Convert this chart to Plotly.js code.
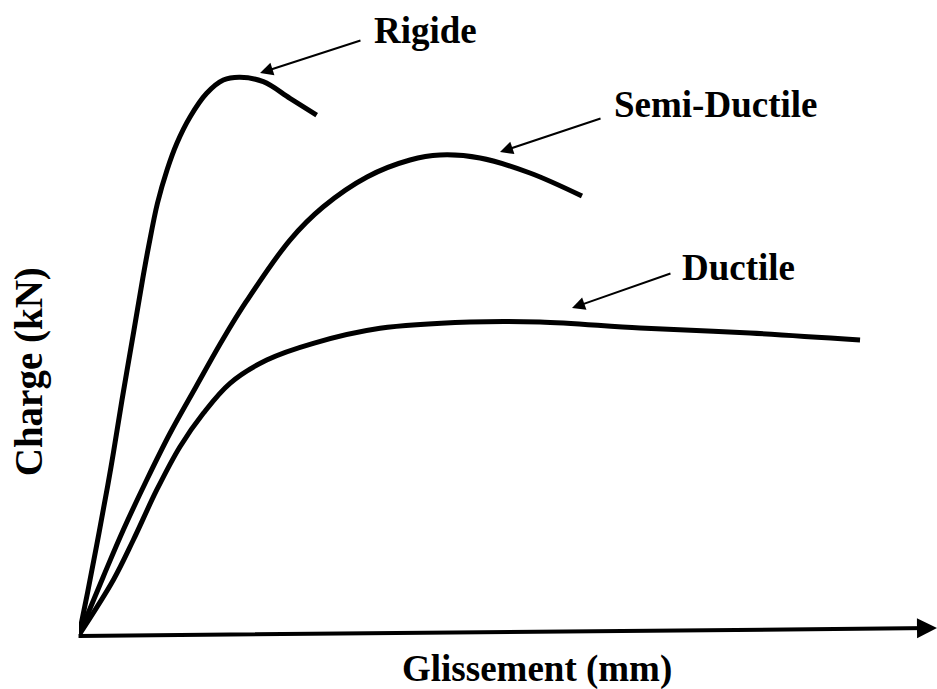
<!DOCTYPE html>
<html>
<head>
<meta charset="utf-8">
<script src="https://cdn.plot.ly/plotly-3.0.1.min.js"></script>
<style>html,body{margin:0;padding:0;background:#fff;}#chart{width:937px;height:689px;}</style>
</head>
<body>
<div id="chart"></div>
<script>
// Glissement (arbitrary units) and Charge (arbitrary units)
const rigideX = [0, 0.099, 0.233, 0.373, 0.501, 0.641, 0.740, 0.810, 0.915, 1.026, 1.142, 1.294, 1.488, 1.682, 1.876, 2.148, 2.459, 2.770];
const rigideY = [0, 0.704, 1.709, 2.814, 3.936, 5.109, 5.946, 6.499, 7.236, 7.789, 8.241, 8.677, 9.074, 9.296, 9.342, 9.268, 8.990, 8.710];

const semiX = [0, 0.283, 0.516, 0.789, 1.061, 1.364, 1.672, 1.946, 2.459, 2.844, 3.357, 3.858, 4.207, 4.674, 5.256, 5.862];
const semiY = [0, 0.977, 1.759, 2.596, 3.379, 4.159, 4.941, 5.578, 6.616, 7.169, 7.672, 7.956, 8.040, 7.990, 7.739, 7.353];

const ductileX = [0, 0.400, 0.633, 0.906, 1.177, 1.449, 1.760, 2.188, 2.731, 3.508, 4.557, 5.373, 6.538, 7.821, 9.103];
const ductileY = [0, 0.921, 1.591, 2.429, 3.154, 3.714, 4.216, 4.606, 4.886, 5.137, 5.243, 5.243, 5.142, 5.059, 4.941];

const seriesNames = ["Rigide", "Semi-Ductile", "Ductile"];
const xTitle = "Glissement (mm)";
const yTitle = "Charge (kN)";

const serif = "Liberation Serif, Times New Roman, serif";
const lineStyle = {color: "#000", width: 5, shape: "spline", smoothing: 1};

const traces = [
  {x: rigideX, y: rigideY, name: seriesNames[0], mode: "lines", line: lineStyle, hoverinfo: "skip"},
  {x: semiX, y: semiY, name: seriesNames[1], mode: "lines", line: lineStyle, hoverinfo: "skip"},
  {x: ductileX, y: ductileY, name: seriesNames[2], mode: "lines", line: lineStyle, hoverinfo: "skip"}
];

const arrowAnn = (tipX, tipY, tailX, tailY, w, size) => ({
  x: tipX, y: tipY, ax: tailX, ay: tailY, xref: "x", yref: "y", axref: "x", ayref: "y",
  text: "", showarrow: true, arrowhead: 2, arrowwidth: w, arrowsize: size, arrowcolor: "#000", standoff: 0
});
const textAnn = (txt, px, py, size, angle) => ({
  x: px, y: py, xref: "paper", yref: "paper", text: "<b>" + txt + "</b>", showarrow: false,
  textangle: angle || 0, font: {family: serif, size: size, color: "#000"}, xanchor: "center", yanchor: "middle"
});

const layout = {
  width: 937, height: 689,
  margin: {l: 79, r: 0, t: 38, b: 54},
  paper_bgcolor: "#fff", plot_bgcolor: "#fff",
  showlegend: false,
  xaxis: {range: [0, 10], showgrid: false, zeroline: false, showline: false, showticklabels: false, ticks: ""},
  yaxis: {range: [0, 10], showgrid: false, zeroline: false, showline: false, showticklabels: false, ticks: ""},
  annotations: [
    // axes with arrowheads
    arrowAnn(10.0, 0.117, -0.023, -0.017, 4, 1),
    arrowAnn(-0.023, 10.0, -0.023, -0.017, 4, 1),
    // label pointers
    arrowAnn(2.110, 9.414, 3.298, 9.966, 2, 1.3),
    arrowAnn(4.907, 8.090, 6.096, 8.660, 2, 1.3),
    arrowAnn(5.746, 5.477, 6.911, 6.064, 2, 1.3),
    // labels (paper coordinates relative to plot area)
    textAnn(seriesNames[0], 0.4033, 1.0134, 37),
    textAnn(seriesNames[1], 0.7424, 0.8878, 37),
    textAnn(seriesNames[2], 0.7681, 0.6164, 37),
    // axis titles
    textAnn(xTitle, 0.534, -0.057, 37),
    textAnn(yTitle, -0.058, 0.4405, 39, -90)
  ]
};

Plotly.newPlot("chart", traces, layout, {displayModeBar: false, staticPlot: true});
</script>
</body>
</html>
